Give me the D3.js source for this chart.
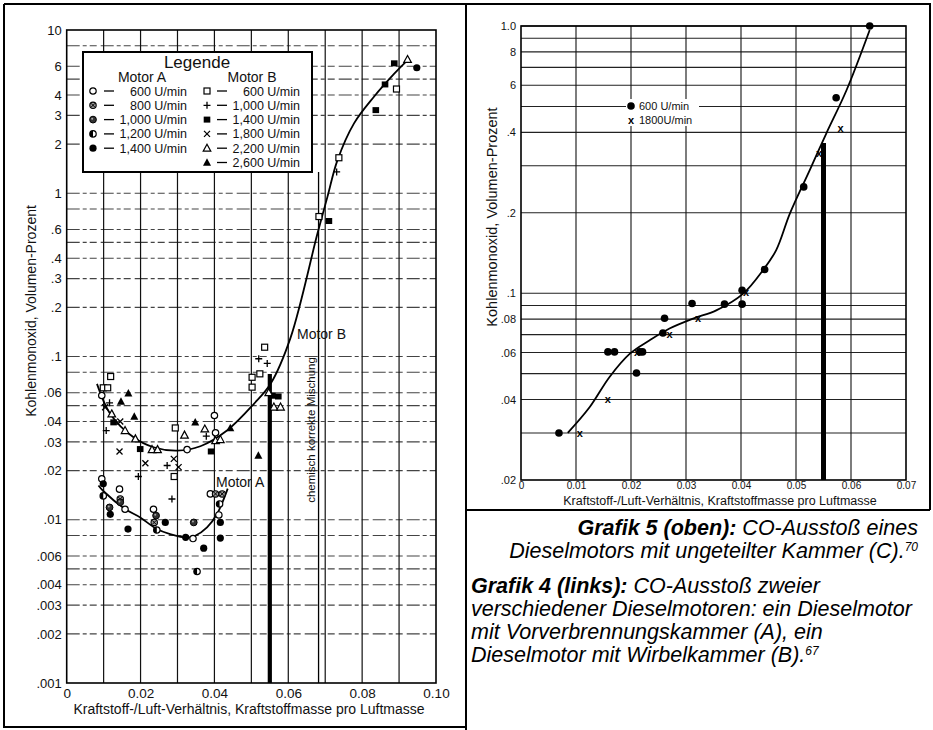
<!DOCTYPE html>
<html><head><meta charset="utf-8">
<script src="https://cdn.jsdelivr.net/npm/d3@7"></script>
<style>body{margin:0;background:#fff}svg{display:block;font-family:"Liberation Sans",Arial,sans-serif}</style>
</head><body>
<script>
// ---------------- DATA (left chart: Grafik 4) ----------------
const leftYTicks  = [10,6,4,3,2,1,.6,.4,.3,.2,.1,.06,.04,.03,.02,.01,.006,.004,.003,.002,.001];
const leftYLabels = ["10","6","4","3","2","1",".6",".4",".3",".2",".1",".06",".04",".03",".02",".01",".006",".004",".003",".002",".001"];
const leftXTicks  = [0,.02,.04,.06,.08,.10];
const leftXLabels = ["0","0.02","0.04","0.06","0.08","0.10"];
const leftXGrid   = [.01,.02,.03,.04,.05,.06,.07,.08,.09];
const leftYGrid   = [8,6,5,4,3,2,1,.8,.6,.5,.4,.3,.2,.1,.08,.06,.05,.04,.03,.02,.01,.008,.006,.005,.004,.003,.002];

// Motor A (open circle 600, circle-x 800, grey 1000, half 1200, filled 1400)
const motorA600  = [[0.0095,0.0178],[0.0143,0.0154],[0.0158,0.0116],[0.0235,0.0116],[0.0342,0.00767],[0.0412,0.0107],[0.0389,0.0144],[0.0095,0.0577],[0.0326,0.0269],[0.0400,0.0435],[0.0403,0.0341]];
const motorA800  = [[0.0145,0.0134],[0.0237,0.00963],[0.0403,0.0144],[0.0421,0.0144]];
const motorA1000 = [[0.0145,0.0128],[0.0116,0.0119],[0.0344,0.00963],[0.0242,0.0106]];
const motorA1200 = [[0.0099,0.0140],[0.0353,0.00482],[0.0244,0.00865],[0.0414,0.0125]];
const motorA1400 = [[0.0099,0.0166],[0.0118,0.0108],[0.0166,0.00877],[0.0267,0.00963],[0.0371,0.0067],[0.0416,0.00963],[0.0416,0.00772],[0.0322,0.0078],[0.0948,5.87]];
// Motor B (open square 600, plus 1000, filled square 1400, x 1800, open tri 2200, filled tri 2600)
const motorB600  = [[0.0119,0.0754],[0.0099,0.0643],[0.0111,0.0643],[0.0291,0.0184],[0.0294,0.0365],[0.0502,0.0746],[0.0502,0.0649],[0.0523,0.0783],[0.0536,0.114],[0.0683,0.72],[0.0737,1.65],[0.0893,4.35]];
const motorB1000 = [[0.0116,0.052],[0.0107,0.0352],[0.0272,0.0215],[0.0194,0.0184],[0.0285,0.0134],[0.0378,0.0325],[0.0520,0.0969],[0.0543,0.0907],[0.0731,1.35]];
const motorB1400 = [[0.0127,0.0395],[0.0199,0.0271],[0.0391,0.0262],[0.0557,0.0575],[0.0573,0.0569],[0.0710,0.676],[0.0837,3.23],[0.0862,4.64],[0.0887,6.25]];
const motorB1800 = [[0.0145,0.040],[0.0143,0.0262],[0.0213,0.0222],[0.0303,0.021],[0.0104,0.0489],[0.0290,0.0236]];
const motorB2200 = [[0.0122,0.0445],[0.0158,0.0352],[0.0186,0.0313],[0.0231,0.0269],[0.0246,0.0269],[0.0319,0.033],[0.0374,0.036],[0.0403,0.0305],[0.0416,0.031],[0.0547,0.060],[0.0561,0.049],[0.0579,0.049],[0.0923,6.6]];
const motorB2600 = [[0.0167,0.0596],[0.0147,0.053],[0.0183,0.0428],[0.0348,0.0395],[0.0443,0.0365],[0.0519,0.0247]];

const motorBCurveX = [0.0082,0.0118,0.0181,0.0235,0.0299,0.0362,0.0434,0.0507,0.0552,0.0606,0.0679,0.0706,0.0733,0.0778,0.0832,0.0887,0.0928];
const motorBCurveY = [0.068,0.0445,0.032,0.0278,0.0265,0.0282,0.0352,0.0513,0.068,0.130,0.566,0.95,1.59,2.68,3.9,5.4,6.7];
const motorACurveX = [0.0086,0.0099,0.0158,0.0199,0.0244,0.0280,0.0326,0.0348,0.0380,0.0407,0.0436];
const motorACurveY = [0.0162,0.0150,0.01164,0.01033,0.00877,0.00817,0.00778,0.00798,0.00898,0.01084,0.0155];

const leftStoich   = 0.055;   // bold bar
const leftStoichTop= 0.078;
const leftChemLine = 0.0682;  // "chemisch korrekte Mischung"
const leftChemTop  = 1.35;

const legendALabels = ["600 U/min","800 U/min","1,000 U/min","1,200 U/min","1,400 U/min"];
const legendBLabels = ["600 U/min","1,000 U/min","1,400 U/min","1,800 U/min","2,200 U/min","2,600 U/min"];

// ---------------- DATA (right chart: Grafik 5) ----------------
const rightYTicks  = [1,.8,.6,.4,.2,.1,.08,.06,.04,.02];
const rightYLabels = ["1.0","8","6",".4",".2",".1",".08",".06",".04",".02"];
const rightXTicks  = [0,.01,.02,.03,.04,.05,.06,.07];
const rightXLabels = ["0","0.01","0.02","0.03","0.04","0.05","0.06","0.07"];
const rightXGrid   = [.01,.02,.03,.04,.05,.06];
const rightYGrid   = [1,.9,.8,.7,.6,.5,.4,.3,.2,.1,.09,.08,.07,.06,.05,.04,.03];
const engineC600  = [[0.0069,0.030],[0.0158,0.0603],[0.0170,0.0603],[0.0210,0.0503],[0.0216,0.0603],[0.0221,0.0603],[0.0261,0.0806],[0.0258,0.071],[0.0311,0.0915],[0.0370,0.091],[0.0402,0.091],[0.0402,0.1026],[0.0443,0.1227],[0.0514,0.25],[0.0573,0.539],[0.0634,1.0]];
const engineC1800 = [[0.0107,0.030],[0.0158,0.040],[0.0211,0.0603],[0.0270,0.0702],[0.0322,0.0804],[0.0409,0.101],[0.0542,0.335],[0.0581,0.414]];
const curveCX = [0.0085,0.0125,0.0161,0.0198,0.0234,0.0270,0.0313,0.0355,0.0404,0.0440,0.0464,0.0489,0.0525,0.0555,0.0592,0.0634];
const curveCY = [0.030,0.0375,0.0486,0.0594,0.0667,0.0738,0.0804,0.0863,0.0997,0.122,0.145,0.199,0.289,0.396,0.576,0.966];
const rightStoich = 0.055, rightStoichTop = 0.365;
const rightLegendLabels = ["600 U/min","1800U/min"];

// ---------------- DRAW ----------------
const svg = d3.select("body").append("svg").attr("width",933).attr("height",730);
svg.append("rect").attr("width",933).attr("height",730).attr("fill","#fff");

const xL = d3.scaleLinear().domain([0,0.10]).range([66.7,436]);
const yL = d3.scaleLog().domain([0.001,10]).range([683,30]);
const xR = d3.scaleLinear().domain([0,0.07]).range([521,906]);
const yR = d3.scaleLog().domain([0.02,1]).range([480,26]);

// markers
const R = 3.2;
const shapes = {
  openCircle: g => g.append("circle").attr("r",R).attr("fill","#fff").attr("stroke","#000").attr("stroke-width",1.2),
  xCircle: g => { g.append("circle").attr("r",R).attr("fill","#999").attr("stroke","#000").attr("stroke-width",1.1);
                  g.append("path").attr("d","M-2,-2L2,2M-2,2L2,-2").attr("stroke","#000").attr("stroke-width",1); },
  greyCircle: g => { g.append("circle").attr("r",R+0.2).attr("fill","#333").attr("stroke","#000");
                     g.append("circle").attr("r",1).attr("cx",-0.8).attr("cy",-0.8).attr("fill","#aaa"); },
  halfCircle: g => { g.append("circle").attr("r",R).attr("fill","#fff").attr("stroke","#000").attr("stroke-width",1.2);
                     g.append("path").attr("d",`M0,${-R}A${R},${R} 0 0 0 0,${R}Z`).attr("fill","#000"); },
  filledCircle: g => g.append("circle").attr("r",R+0.4).attr("fill","#000"),
  openSquare: g => g.append("rect").attr("x",-3).attr("y",-3).attr("width",6).attr("height",6).attr("fill","#fff").attr("stroke","#000").attr("stroke-width",1.2),
  plus: g => g.append("path").attr("d","M-3.5,0H3.5M0,-3.5V3.5").attr("stroke","#000").attr("stroke-width",1.3),
  filledSquare: g => g.append("rect").attr("x",-3.3).attr("y",-3).attr("width",6.6).attr("height",6).attr("fill","#000"),
  cross: g => g.append("path").attr("d","M-3,-3L3,3M-3,3L3,-3").attr("stroke","#000").attr("stroke-width",1.3),
  openTriangle: g => g.append("path").attr("d","M0,-4L3.8,3L-3.8,3Z").attr("fill","#fff").attr("stroke","#000").attr("stroke-width",1.2),
  filledTriangle: g => g.append("path").attr("d","M0,-4.3L4,3.2L-4,3.2Z").attr("fill","#000"),
  bigDot: g => g.append("circle").attr("r",3.8).attr("fill","#000"),
  smallX: g => { g.append("text").attr("text-anchor","middle").attr("dy","0.33em").attr("font-size",11).attr("font-weight","bold").text("x"); }
};
function drawSeries(parent, pts, type, xs, ys){
  parent.append("g").selectAll("g").data(pts).join("g")
    .attr("transform",d=>`translate(${xs(d[0])},${ys(d[1])})`)
    .each(function(){ shapes[type](d3.select(this)); });
}

// ---------- panel frames ----------
const frame = svg.append("g").attr("stroke","#000").attr("stroke-width",2).attr("fill","none");
frame.append("path").attr("d","M4,4H930V510M4,4V727H466M466,4V730M466,510H930");

// ---------- LEFT CHART ----------
const L = svg.append("g");
L.append("g").selectAll("line").data(leftYGrid).join("line")
  .attr("x1",xL(0)).attr("x2",xL(0.10)).attr("y1",d=>yL(d)).attr("y2",d=>yL(d))
  .attr("stroke","#444").attr("stroke-width",1.1).attr("stroke-dasharray","13,3,4,3,7,4");
L.append("g").selectAll("line").data(leftXGrid).join("line")
  .attr("x1",d=>xL(d)).attr("x2",d=>xL(d)).attr("y1",yL(10)).attr("y2",yL(0.001))
  .attr("stroke","#111").attr("stroke-width",1.2);
L.append("rect").attr("x",xL(0)).attr("y",yL(10)).attr("width",xL(0.10)-xL(0)).attr("height",yL(0.001)-yL(10))
  .attr("fill","none").attr("stroke","#000").attr("stroke-width",1.6);
L.append("line").attr("x1",xL(leftChemLine)).attr("x2",xL(leftChemLine)).attr("y1",yL(leftChemTop)).attr("y2",yL(0.001))
  .attr("stroke","#000").attr("stroke-width",1.3);
L.append("line").attr("x1",xL(leftStoich)).attr("x2",xL(leftStoich)).attr("y1",yL(leftStoichTop)).attr("y2",yL(0.001))
  .attr("stroke","#000").attr("stroke-width",4.2);
L.append("text").attr("transform",`translate(${xL(leftChemLine)-4},${430}) rotate(-90)`)
  .attr("text-anchor","middle").attr("font-size",11.5).attr("fill","#111").text("chemisch korrekte Mischung");

const lineL = d3.line().x(d=>xL(d[0])).y(d=>yL(d[1])).curve(d3.curveCatmullRom.alpha(0.5));
L.append("path").attr("d",lineL(motorBCurveX.map((x,i)=>[x,motorBCurveY[i]])))
  .attr("fill","none").attr("stroke","#000").attr("stroke-width",1.8);
L.append("path").attr("d",lineL(motorACurveX.map((x,i)=>[x,motorACurveY[i]])))
  .attr("fill","none").attr("stroke","#000").attr("stroke-width",1.8);

drawSeries(L, motorA600, "openCircle", xL, yL);
drawSeries(L, motorA800, "xCircle", xL, yL);
drawSeries(L, motorA1000, "greyCircle", xL, yL);
drawSeries(L, motorA1200, "halfCircle", xL, yL);
drawSeries(L, motorA1400, "filledCircle", xL, yL);
drawSeries(L, motorB600, "openSquare", xL, yL);
drawSeries(L, motorB1000, "plus", xL, yL);
drawSeries(L, motorB1400, "filledSquare", xL, yL);
drawSeries(L, motorB1800, "cross", xL, yL);
drawSeries(L, motorB2200, "openTriangle", xL, yL);
drawSeries(L, motorB2600, "filledTriangle", xL, yL);

L.append("text").attr("x",297).attr("y",339).attr("font-size",14).attr("fill","#111").text("Motor B");
L.append("text").attr("x",216).attr("y",487).attr("font-size",14).attr("fill","#111").text("Motor A");

L.append("g").attr("transform",`translate(${xL(0)},0)`)
  .call(d3.axisLeft(yL).tickValues(leftYTicks).tickFormat((d,i)=>leftYLabels[i]).tickSize(0).tickPadding(5))
  .call(g=>g.select(".domain").remove())
  .call(g=>g.selectAll("text").attr("font-size",13).attr("font-family","Liberation Sans, Arial").attr("fill","#111"));
L.append("g").attr("transform",`translate(0,${yL(0.001)})`)
  .call(d3.axisBottom(xL).tickValues(leftXTicks).tickFormat((d,i)=>leftXLabels[i]).tickSize(0).tickPadding(5))
  .call(g=>g.select(".domain").remove())
  .call(g=>g.selectAll("text").attr("font-size",13.5).attr("font-family","Liberation Sans, Arial").attr("fill","#111"));
L.append("text").attr("x",249).attr("y",714).attr("text-anchor","middle").attr("font-size",14).attr("fill","#111")
  .text("Kraftstoff-/Luft-Verhältnis, Kraftstoffmasse pro Luftmasse");
L.append("text").attr("transform","translate(36,311) rotate(-90)").attr("text-anchor","middle").attr("font-size",14).attr("fill","#111")
  .text("Kohlenmonoxid, Volumen-Prozent");

// legend box
const LG = L.append("g");
LG.append("rect").attr("x",83).attr("y",52).attr("width",229).attr("height",120).attr("fill","#fff").attr("stroke","#000").attr("stroke-width",2);
LG.append("text").attr("x",197).attr("y",68).attr("text-anchor","middle").attr("font-size",17).attr("fill","#111").text("Legende");
LG.append("text").attr("x",142).attr("y",82).attr("text-anchor","middle").attr("font-size",14).attr("fill","#111").text("Motor A");
LG.append("text").attr("x",252).attr("y",82).attr("text-anchor","middle").attr("font-size",14).attr("fill","#111").text("Motor B");
const legTypesA = ["openCircle","xCircle","greyCircle","halfCircle","filledCircle"];
const legTypesB = ["openSquare","plus","filledSquare","cross","openTriangle","filledTriangle"];
const rowY = i => 91 + i*14.3;
legendALabels.forEach((t,i)=>{
  const g = LG.append("g").attr("transform",`translate(93,${rowY(i)})`); shapes[legTypesA[i]](g);
  LG.append("line").attr("x1",104).attr("x2",114).attr("y1",rowY(i)).attr("y2",rowY(i)).attr("stroke","#000").attr("stroke-width",1.3);
  LG.append("text").attr("x",187).attr("y",rowY(i)+4.5).attr("text-anchor","end").attr("font-size",12.5).attr("fill","#111").text(t);
});
legendBLabels.forEach((t,i)=>{
  const g = LG.append("g").attr("transform",`translate(207,${rowY(i)})`); shapes[legTypesB[i]](g);
  LG.append("line").attr("x1",217).attr("x2",227).attr("y1",rowY(i)).attr("y2",rowY(i)).attr("stroke","#000").attr("stroke-width",1.3);
  LG.append("text").attr("x",300).attr("y",rowY(i)+4.5).attr("text-anchor","end").attr("font-size",12.5).attr("fill","#111").text(t);
});

// ---------- RIGHT CHART ----------
const Rg = svg.append("g");
Rg.append("g").selectAll("line").data(rightYGrid).join("line")
  .attr("x1",xR(0)).attr("x2",xR(0.07)).attr("y1",d=>yR(d)).attr("y2",d=>yR(d))
  .attr("stroke","#222").attr("stroke-width",1.1);
Rg.append("g").selectAll("line").data(rightXGrid).join("line")
  .attr("x1",d=>xR(d)).attr("x2",d=>xR(d)).attr("y1",yR(1)).attr("y2",yR(0.02))
  .attr("stroke","#111").attr("stroke-width",1.1);
Rg.append("rect").attr("x",xR(0)).attr("y",yR(1)).attr("width",xR(0.07)-xR(0)).attr("height",yR(0.02)-yR(1))
  .attr("fill","none").attr("stroke","#000").attr("stroke-width",1.6);
Rg.append("line").attr("x1",xR(rightStoich)).attr("x2",xR(rightStoich)).attr("y1",yR(rightStoichTop)).attr("y2",yR(0.02))
  .attr("stroke","#000").attr("stroke-width",5);
const lineR = d3.line().x(d=>xR(d[0])).y(d=>yR(d[1])).curve(d3.curveCatmullRom.alpha(0.5));
Rg.append("path").attr("d",lineR(curveCX.map((x,i)=>[x,curveCY[i]])))
  .attr("fill","none").attr("stroke","#000").attr("stroke-width",1.8);
drawSeries(Rg, engineC600, "bigDot", xR, yR);
drawSeries(Rg, engineC1800, "smallX", xR, yR);

Rg.append("rect").attr("x",626).attr("y",99).attr("width",73).attr("height",27).attr("fill","#fff");
rightLegendLabels.forEach((t,i)=>{
  const y = 106 + i*14;
  const g = Rg.append("g").attr("transform",`translate(631,${y})`); shapes[i===0?"bigDot":"smallX"](g);
  Rg.append("text").attr("x",639).attr("y",y+4).attr("font-size",11).attr("fill","#111").text(t);
});

Rg.append("g").attr("transform",`translate(${xR(0)},0)`)
  .call(d3.axisLeft(yR).tickValues(rightYTicks).tickFormat((d,i)=>rightYLabels[i]).tickSize(0).tickPadding(5))
  .call(g=>g.select(".domain").remove())
  .call(g=>g.selectAll("text").attr("font-size",11).attr("font-family","Liberation Sans, Arial").attr("fill","#111"));
Rg.append("g").attr("transform",`translate(0,${yR(0.02)})`)
  .call(d3.axisBottom(xR).tickValues(rightXTicks).tickFormat((d,i)=>rightXLabels[i]).tickSize(0).tickPadding(2))
  .call(g=>g.select(".domain").remove())
  .call(g=>g.selectAll("text").attr("font-size",10).attr("font-family","Liberation Sans, Arial").attr("fill","#111"));
Rg.append("text").attr("x",720).attr("y",505).attr("text-anchor","middle").attr("font-size",12.5).attr("fill","#111")
  .text("Kraftstoff-/Luft-Verhältnis, Kraftstoffmasse pro Luftmasse");
Rg.append("rect").attr("x",484).attr("y",100).attr("width",16).attr("height",258).attr("fill","#fff");
Rg.append("text").attr("transform","translate(497,217) rotate(-90)").attr("text-anchor","middle").attr("font-size",14.5).attr("fill","#111")
  .text("Kohlenmonoxid, Volumen-Prozent");

// ---------- CAPTIONS ----------
const C = svg.append("g").attr("font-size",21.5).attr("font-style","italic").attr("fill","#000");
const c1 = C.append("text").attr("x",918).attr("y",535).attr("text-anchor","end");
c1.append("tspan").attr("font-weight","bold").text("Grafik 5 (oben):");
c1.append("tspan").text(" CO-Ausstoß eines");
const c2 = C.append("text").attr("x",918).attr("y",558).attr("text-anchor","end");
c2.append("tspan").text("Dieselmotors mit ungeteilter Kammer (C).");
c2.append("tspan").attr("font-size",12).attr("dy",-7).text("70");
const g4lines = ["verschiedener Dieselmotoren: ein Dieselmotor","mit Vorverbrennungskammer (A), ein"];
const c3 = C.append("text").attr("x",471).attr("y",593);
c3.append("tspan").attr("font-weight","bold").text("Grafik 4 (links):");
c3.append("tspan").text(" CO-Ausstoß zweier");
g4lines.forEach((t,i)=>C.append("text").attr("x",471).attr("y",616+i*23).text(t));
const c6 = C.append("text").attr("x",471).attr("y",662);
c6.append("tspan").text("Dieselmotor mit Wirbelkammer (B).");
c6.append("tspan").attr("font-size",12).attr("dy",-7).text("67");
</script>
</body></html>
